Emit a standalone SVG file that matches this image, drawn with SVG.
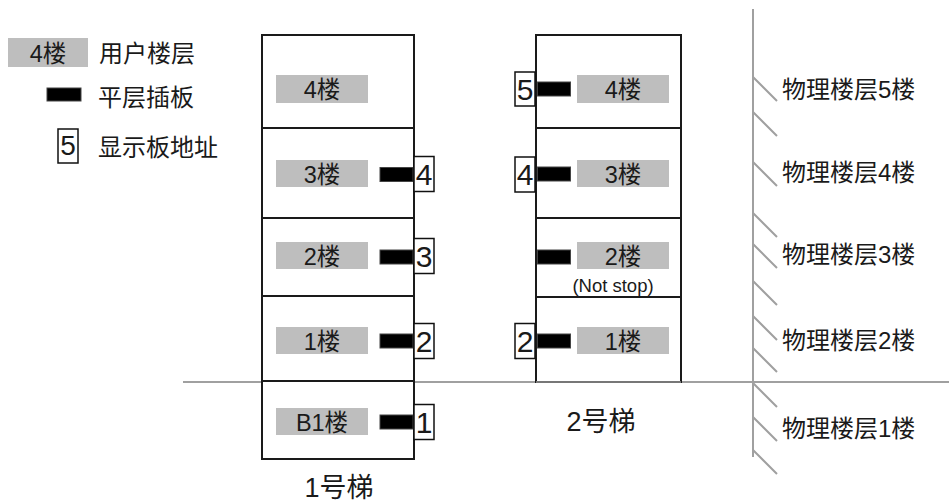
<svg xmlns="http://www.w3.org/2000/svg" width="949" height="502" viewBox="0 0 949 502">
<style>
text{font-family:"Liberation Sans","Noto Sans CJK SC",sans-serif;fill:#1a1a1a}
.lab{fill:#bebebe}
.lt{font-size:23.5px;text-anchor:middle}
.bar{fill:#000;stroke:#444;stroke-width:1}
.addr{fill:#fff;stroke:#111;stroke-width:1.5}
.at{font-size:30px;text-anchor:middle}
.sh{fill:#fff;stroke:#1a1a1a;stroke-width:2}
.fl{stroke:#1a1a1a;stroke-width:2}
.g{stroke:#a0a0a0;stroke-width:2;fill:none}
.big{font-size:24px}
.name{font-size:27px;text-anchor:middle}
</style>
<rect width="949" height="502" fill="#fff"/>
<g id="legend">
  <rect class="lab" x="8" y="38" width="80" height="29"/>
  <text class="lt" x="48" y="62">4楼</text>
  <text class="big" x="99" y="62">用户楼层</text>
  <rect class="bar" x="47" y="88" width="34" height="13"/>
  <text class="big" x="98" y="106">平层插板</text>
  <rect class="addr" x="58" y="129" width="20" height="34"/>
  <text class="at" x="68" y="155" style="font-size:28px">5</text>
  <text class="big" x="98" y="155.5">显示板地址</text>
</g>
<g id="ground" class="g">
  <line x1="183" y1="382" x2="949" y2="382"/>
</g>
<g id="elevator1">
  <rect class="sh" x="262" y="35" width="152" height="424"/>
  <line class="fl" x1="262" y1="128" x2="414" y2="128"/>
  <line class="fl" x1="262" y1="218" x2="414" y2="218"/>
  <line class="fl" x1="262" y1="296" x2="414" y2="296"/>
  <line class="fl" x1="262" y1="381" x2="414" y2="381"/>
  <rect class="lab" x="276" y="75" width="92" height="28"/>
  <text class="lt" x="322" y="97.5">4楼</text>
  <rect class="lab" x="276" y="160" width="92" height="27"/>
  <text class="lt" x="322" y="182.5">3楼</text>
  <rect class="lab" x="276" y="242" width="92" height="27"/>
  <text class="lt" x="322" y="264.5">2楼</text>
  <rect class="lab" x="276" y="327" width="92" height="27"/>
  <text class="lt" x="322" y="349.5">1楼</text>
  <rect class="lab" x="276" y="408" width="92" height="27"/>
  <text class="lt" x="322" y="430.5">B1楼</text>
  <rect class="bar" x="380" y="167.5" width="33" height="14"/>
  <rect class="bar" x="380" y="250" width="33" height="14"/>
  <rect class="bar" x="380" y="334" width="33" height="14"/>
  <rect class="bar" x="380" y="415" width="33" height="14"/>
  <rect class="addr" x="414" y="156.5" width="20" height="35"/>
  <text class="at" x="424" y="185">4</text>
  <rect class="addr" x="414" y="238.5" width="20" height="35"/>
  <text class="at" x="424" y="267">3</text>
  <rect class="addr" x="414" y="323.5" width="20" height="35"/>
  <text class="at" x="424" y="352">2</text>
  <rect class="addr" x="414" y="404.5" width="20" height="35"/>
  <text class="at" x="424" y="433">1</text>
  <text class="name" x="339" y="497">1号梯</text>
</g>
<g id="elevator2">
  <rect class="sh" x="536" y="35" width="145" height="347"/>
  <line class="fl" x1="536" y1="128" x2="681" y2="128"/>
  <line class="fl" x1="536" y1="218" x2="681" y2="218"/>
  <line class="fl" x1="536" y1="297" x2="681" y2="297"/>
  <line x1="536" y1="382" x2="681" y2="382" stroke="#777" stroke-width="2"/>
  <rect class="lab" x="577" y="75" width="92" height="28"/>
  <text class="lt" x="623" y="97.5">4楼</text>
  <rect class="lab" x="577" y="160" width="92" height="27"/>
  <text class="lt" x="623" y="182.5">3楼</text>
  <rect class="lab" x="577" y="242" width="92" height="27"/>
  <text class="lt" x="623" y="264.5">2楼</text>
  <text x="613" y="292" style="font-size:18.5px;text-anchor:middle">(Not stop)</text>
  <rect class="lab" x="577" y="327" width="92" height="27"/>
  <text class="lt" x="623" y="349.5">1楼</text>
  <rect class="bar" x="537.5" y="82" width="33" height="14"/>
  <rect class="bar" x="537.5" y="167" width="33" height="14"/>
  <rect class="bar" x="537.5" y="250" width="33" height="14"/>
  <rect class="bar" x="537.5" y="334" width="33" height="14"/>
  <rect class="addr" x="515" y="72" width="20" height="34"/>
  <text class="at" x="525" y="100">5</text>
  <rect class="addr" x="515" y="157" width="20" height="35"/>
  <text class="at" x="525" y="185">4</text>
  <rect class="addr" x="515" y="323.5" width="20" height="35"/>
  <text class="at" x="525" y="352">2</text>
  <text class="name" x="601" y="431">2号梯</text>
</g>
<g id="wall" class="g">
  <line x1="753" y1="9" x2="753" y2="457"/>
  <path d="M753 77l24 24M753 112l24 24M753 162l24 24M753 213l24 24M753 244l24 24M753 281l24 24M753 316l24 24M753 348l24 24M753 383l24 24M753 417l24 24M753 450l24 24"/>
</g>
<g id="physical-floors">
  <text class="big" x="782" y="98">物理楼层5楼</text>
  <text class="big" x="782" y="181">物理楼层4楼</text>
  <text class="big" x="782" y="263">物理楼层3楼</text>
  <text class="big" x="782" y="349">物理楼层2楼</text>
  <text class="big" x="782" y="437">物理楼层1楼</text>
</g>
</svg>
